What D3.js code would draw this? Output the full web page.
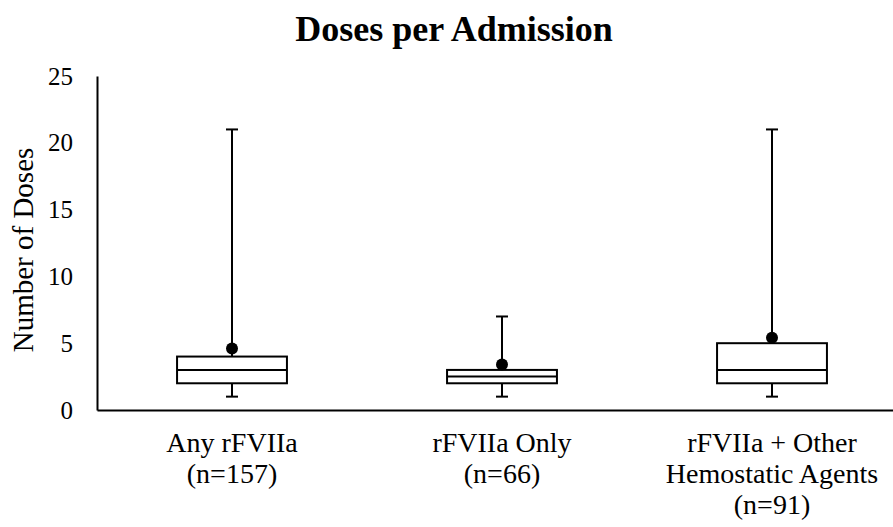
<!DOCTYPE html>
<html><head><meta charset="utf-8">
<script src="https://cdn.jsdelivr.net/npm/d3@7"></script>
<style>body{margin:0;background:#fff}svg{display:block}</style>
</head><body>
<svg id="c" width="893" height="527"></svg>
<script>
const categories = [["Any rFVIIa","(n=157)"],["rFVIIa Only","(n=66)"],["rFVIIa + Other","Hemostatic Agents","(n=91)"]];
const mins = [1, 1, 1];
const q1s = [2, 2, 2];
const medians = [3, 2.5, 3];
const q3s = [4, 3, 5];
const maxs = [21, 7, 21];
const means = [4.6, 3.4, 5.4];
const yTicks = [0, 5, 10, 15, 20, 25];

const svg = d3.select("#c");
const font = "'Liberation Serif','Times New Roman',serif";
const m = {left: 97, top: 76, bottom: 410, right: 907};
const keys = categories.map((d,i)=>i);
const x = d3.scaleBand().domain(keys).range([m.left, m.right]).padding(0);
const y = d3.scaleLinear().domain([0,25]).range([m.bottom, m.top]);
const bw = x.bandwidth()*0.407;

svg.append("text").attr("x",454).attr("y",41).attr("text-anchor","middle")
  .attr("font-family",font).attr("font-weight","bold").attr("font-size",36).text("Doses per Admission");

// y axis
const ya = svg.append("g").attr("transform",`translate(${m.left},0)`)
  .call(d3.axisLeft(y).tickValues(yTicks).tickSize(0).tickPadding(24));
ya.select(".domain").attr("stroke","#000").attr("stroke-width",2);
ya.selectAll("text").attr("font-family",font).attr("font-size",25).attr("fill","#000");

svg.append("text").attr("transform",`translate(33,250) rotate(-90)`)
  .attr("text-anchor","middle").attr("font-family",font).attr("font-size",29).text("Number of Doses");

// x axis
const xa = svg.append("g").attr("transform",`translate(0,${m.bottom})`)
  .call(d3.axisBottom(x).tickSize(0).tickFormat(""));
xa.select(".domain").attr("stroke","#000").attr("stroke-width",2);
xa.selectAll(".tick").each(function(d){
  const t = d3.select(this).append("text").attr("fill","#000").attr("text-anchor","middle")
    .attr("font-family",font).attr("font-size",28);
  categories[d].forEach((ln,j)=>t.append("tspan").attr("x",0).attr("y",42+j*31).text(ln));
});

const g = svg.append("g").attr("stroke","#000").attr("stroke-width",2).attr("fill","none");
keys.forEach(i=>{
  const cx = x(i)+x.bandwidth()/2;
  g.append("line").attr("x1",cx).attr("x2",cx).attr("y1",y(maxs[i])).attr("y2",y(q3s[i]));
  g.append("line").attr("x1",cx).attr("x2",cx).attr("y1",y(q1s[i])).attr("y2",y(mins[i]));
  g.append("line").attr("x1",cx-6).attr("x2",cx+6).attr("y1",y(maxs[i])).attr("y2",y(maxs[i]));
  g.append("line").attr("x1",cx-6).attr("x2",cx+6).attr("y1",y(mins[i])).attr("y2",y(mins[i]));
  g.append("rect").attr("x",cx-bw/2).attr("width",bw).attr("y",y(q3s[i])).attr("height",y(q1s[i])-y(q3s[i])).attr("fill","#fff");
  g.append("line").attr("x1",cx-bw/2).attr("x2",cx+bw/2).attr("y1",y(medians[i])).attr("y2",y(medians[i]));
  svg.append("circle").attr("cx",cx).attr("cy",y(means[i])).attr("r",6).attr("fill","#000");
});
</script>
</body></html>
